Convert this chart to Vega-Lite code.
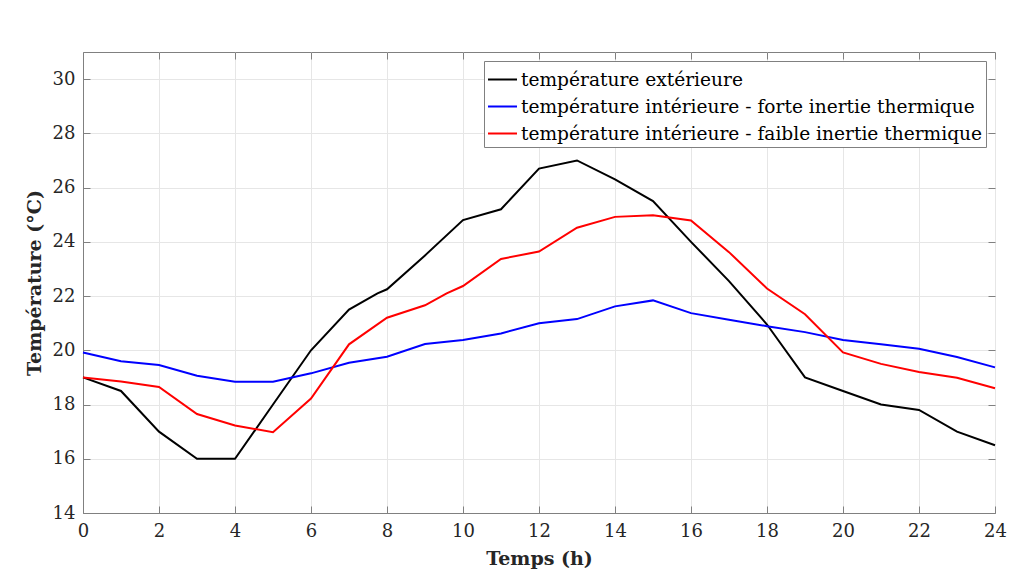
{
  "$schema": "https://vega.github.io/schema/vega-lite/v6.json",
  "width": 912,
  "height": 461,
  "autosize": {"type": "none"},
  "padding": {"left": 83, "top": 52, "right": 17, "bottom": 63},
  "background": "white",
  "config": {
    "font": "DejaVu Serif",
    "view": {"stroke": "#808080", "strokeWidth": 1},
    "axis": {
      "labelFont": "DejaVu Serif",
      "titleFont": "DejaVu Serif",
      "labelFontSize": 18,
      "titleFontSize": 19,
      "labelColor": "#262626",
      "titleColor": "#262626",
      "domainColor": "#808080",
      "tickColor": "#808080",
      "gridColor": "#e6e6e6",
      "gridWidth": 1
    },
    "legend": {
      "labelFont": "DejaVu Serif",
      "labelFontSize": 18.6
    }
  },
  "data": {
    "values": [
      {"h": 0, "t": 19, "s": "température extérieure"},
      {"h": 1, "t": 18.5, "s": "température extérieure"},
      {"h": 2, "t": 17, "s": "température extérieure"},
      {"h": 3, "t": 16, "s": "température extérieure"},
      {"h": 4, "t": 16, "s": "température extérieure"},
      {"h": 5, "t": 18, "s": "température extérieure"},
      {"h": 6, "t": 20, "s": "température extérieure"},
      {"h": 7, "t": 21.5, "s": "température extérieure"},
      {"h": 7.75, "t": 22.1, "s": "température extérieure"},
      {"h": 8, "t": 22.25, "s": "température extérieure"},
      {"h": 9, "t": 23.5, "s": "température extérieure"},
      {"h": 10, "t": 24.8, "s": "température extérieure"},
      {"h": 11, "t": 25.2, "s": "température extérieure"},
      {"h": 12, "t": 26.7, "s": "température extérieure"},
      {"h": 13, "t": 27, "s": "température extérieure"},
      {"h": 14, "t": 26.3, "s": "température extérieure"},
      {"h": 15, "t": 25.5, "s": "température extérieure"},
      {"h": 16, "t": 24, "s": "température extérieure"},
      {"h": 17, "t": 22.55, "s": "température extérieure"},
      {"h": 18, "t": 20.95, "s": "température extérieure"},
      {"h": 19, "t": 19, "s": "température extérieure"},
      {"h": 20, "t": 18.5, "s": "température extérieure"},
      {"h": 21, "t": 18, "s": "température extérieure"},
      {"h": 22, "t": 17.8, "s": "température extérieure"},
      {"h": 23, "t": 17, "s": "température extérieure"},
      {"h": 24, "t": 16.5, "s": "température extérieure"},
      {"h": 0, "t": 19.92, "s": "température intérieure - forte inertie thermique"},
      {"h": 1, "t": 19.6, "s": "température intérieure - forte inertie thermique"},
      {"h": 2, "t": 19.46, "s": "température intérieure - forte inertie thermique"},
      {"h": 3, "t": 19.06, "s": "température intérieure - forte inertie thermique"},
      {"h": 4, "t": 18.84, "s": "température intérieure - forte inertie thermique"},
      {"h": 5, "t": 18.84, "s": "température intérieure - forte inertie thermique"},
      {"h": 6, "t": 19.15, "s": "température intérieure - forte inertie thermique"},
      {"h": 7, "t": 19.54, "s": "température intérieure - forte inertie thermique"},
      {"h": 8, "t": 19.76, "s": "température intérieure - forte inertie thermique"},
      {"h": 9, "t": 20.23, "s": "température intérieure - forte inertie thermique"},
      {"h": 10, "t": 20.38, "s": "température intérieure - forte inertie thermique"},
      {"h": 11, "t": 20.62, "s": "température intérieure - forte inertie thermique"},
      {"h": 12, "t": 21, "s": "température intérieure - forte inertie thermique"},
      {"h": 13, "t": 21.15, "s": "température intérieure - forte inertie thermique"},
      {"h": 14, "t": 21.62, "s": "température intérieure - forte inertie thermique"},
      {"h": 15, "t": 21.84, "s": "température intérieure - forte inertie thermique"},
      {"h": 16, "t": 21.37, "s": "température intérieure - forte inertie thermique"},
      {"h": 17, "t": 21.13, "s": "température intérieure - forte inertie thermique"},
      {"h": 18, "t": 20.89, "s": "température intérieure - forte inertie thermique"},
      {"h": 19, "t": 20.67, "s": "température intérieure - forte inertie thermique"},
      {"h": 20, "t": 20.38, "s": "température intérieure - forte inertie thermique"},
      {"h": 21, "t": 20.22, "s": "température intérieure - forte inertie thermique"},
      {"h": 22, "t": 20.06, "s": "température intérieure - forte inertie thermique"},
      {"h": 23, "t": 19.75, "s": "température intérieure - forte inertie thermique"},
      {"h": 24, "t": 19.37, "s": "température intérieure - forte inertie thermique"},
      {"h": 0, "t": 19, "s": "température intérieure - faible inertie thermique"},
      {"h": 1, "t": 18.85, "s": "température intérieure - faible inertie thermique"},
      {"h": 2, "t": 18.65, "s": "température intérieure - faible inertie thermique"},
      {"h": 3, "t": 17.65, "s": "température intérieure - faible inertie thermique"},
      {"h": 4, "t": 17.23, "s": "température intérieure - faible inertie thermique"},
      {"h": 5, "t": 16.98, "s": "température intérieure - faible inertie thermique"},
      {"h": 6, "t": 18.22, "s": "température intérieure - faible inertie thermique"},
      {"h": 7, "t": 20.22, "s": "température intérieure - faible inertie thermique"},
      {"h": 8, "t": 21.2, "s": "température intérieure - faible inertie thermique"},
      {"h": 9, "t": 21.66, "s": "température intérieure - faible inertie thermique"},
      {"h": 9.57, "t": 22.1, "s": "température intérieure - faible inertie thermique"},
      {"h": 10, "t": 22.37, "s": "température intérieure - faible inertie thermique"},
      {"h": 11, "t": 23.37, "s": "température intérieure - faible inertie thermique"},
      {"h": 12, "t": 23.64, "s": "température intérieure - faible inertie thermique"},
      {"h": 13, "t": 24.52, "s": "température intérieure - faible inertie thermique"},
      {"h": 14, "t": 24.92, "s": "température intérieure - faible inertie thermique"},
      {"h": 15, "t": 24.98, "s": "température intérieure - faible inertie thermique"},
      {"h": 16, "t": 24.79, "s": "température intérieure - faible inertie thermique"},
      {"h": 17, "t": 23.62, "s": "température intérieure - faible inertie thermique"},
      {"h": 18, "t": 22.28, "s": "température intérieure - faible inertie thermique"},
      {"h": 19, "t": 21.33, "s": "température intérieure - faible inertie thermique"},
      {"h": 20, "t": 19.92, "s": "température intérieure - faible inertie thermique"},
      {"h": 21, "t": 19.5, "s": "température intérieure - faible inertie thermique"},
      {"h": 22, "t": 19.2, "s": "température intérieure - faible inertie thermique"},
      {"h": 23, "t": 18.99, "s": "température intérieure - faible inertie thermique"},
      {"h": 24, "t": 18.6, "s": "température intérieure - faible inertie thermique"}
    ]
  },
  "layer": [
    {
      "mark": {"type": "line", "strokeWidth": 2},
      "encoding": {
        "x": {
          "field": "h", "type": "quantitative",
          "scale": {"domain": [0, 24], "nice": false, "zero": false},
          "axis": {
            "title": "Temps (h)", "values": [0,2,4,6,8,10,12,14,16,18,20,22,24],
            "tickSize": -7, "labelPadding": 16, "titlePadding": 9,
            "labelFlush": false
          }
        },
        "y": {
          "field": "t", "type": "quantitative",
          "scale": {"domain": [14, 31], "nice": false, "zero": false},
          "axis": {
            "title": "Température (°C)", "values": [14,16,18,20,22,24,26,28,30],
            "tickSize": -7, "labelPadding": 15, "titlePadding": 8
          }
        },
        "color": {
          "field": "s", "type": "nominal",
          "scale": {
            "domain": ["température extérieure", "température intérieure - forte inertie thermique", "température intérieure - faible inertie thermique"],
            "range": ["#000000", "#0000ff", "#ff0000"]
          },
          "legend": {
            "title": null,
            "orient": "top-right",
            "offset": 9,
            "symbolType": "stroke",
            "symbolSize": 841,
            "symbolStrokeWidth": 2,
            "symbolOffset": 0,
            "labelOffset": 3,
            "labelLimit": 600,
            "labelColor": "#000000",
            "strokeColor": "#808080",
            "fillColor": "white",
            "padding": 3,
            "rowPadding": 1
          }
        }
      }
    },
    {
      "mark": {"type": "point", "opacity": 0},
      "encoding": {
        "x": {
          "field": "h", "type": "quantitative",
          "scale": {"domain": [0, 24], "nice": false, "zero": false},
          "axis": {"orient": "top", "title": null, "labels": false, "grid": false, "domain": false, "values": [0,2,4,6,8,10,12,14,16,18,20,22,24], "tickSize": -7}
        },
        "y": {
          "field": "t", "type": "quantitative",
          "scale": {"domain": [14, 31], "nice": false, "zero": false},
          "axis": {"orient": "right", "title": null, "labels": false, "grid": false, "domain": false, "values": [14,16,18,20,22,24,26,28,30], "tickSize": -7}
        }
      }
    }
  ],
  "resolve": {"scale": {"x": "independent", "y": "independent"}}
}
